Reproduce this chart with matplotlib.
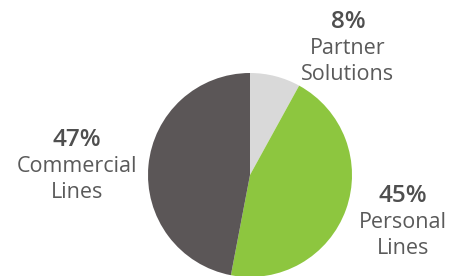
import matplotlib
matplotlib.use("Agg")
import matplotlib.pyplot as plt

# slice data, clockwise from 12 o'clock
segments = ["Partner\nSolutions", "Personal\nLines", "Commercial\nLines"]
shares = [8, 45, 47]
colors = ["#d9d9d9", "#8dc63f", "#5b5657"]

# where the labels sit (figure pixels, from top-left)
label_xy = [(348, 22), (403, 196), (77, 140)]

W, H = 450, 276
fig = plt.figure(figsize=(W / 100, H / 100), dpi=100)
fig.patch.set_facecolor("white")

cx, cy, r = 250, 175, 102
ax = fig.add_axes([(cx - r) / W, (H - cy - r) / H, 2 * r / W, 2 * r / H])
ax.pie(shares, colors=colors, startangle=90, counterclock=False,
       radius=1, wedgeprops=dict(linewidth=0))
ax.set_xlim(-1, 1)
ax.set_ylim(-1, 1)
ax.set_aspect("auto")
ax.axis("off")

txt = "#5a5a5a"
for name, val, (x, y) in zip(segments, shares, label_xy):
    fig.text(x / W, 1 - y / H, f"{val}%", ha="center", va="center",
             fontsize=17.5, fontweight="semibold", color="#4f4f4f", family="Open Sans")
    for i, line in enumerate(name.split("\n")):
        fig.text(x / W, 1 - (y + 27 + 26 * i) / H, line, ha="center", va="center",
                 fontsize=15.5, color=txt, family="Open Sans")

fig.savefig("out.png", dpi=100)
